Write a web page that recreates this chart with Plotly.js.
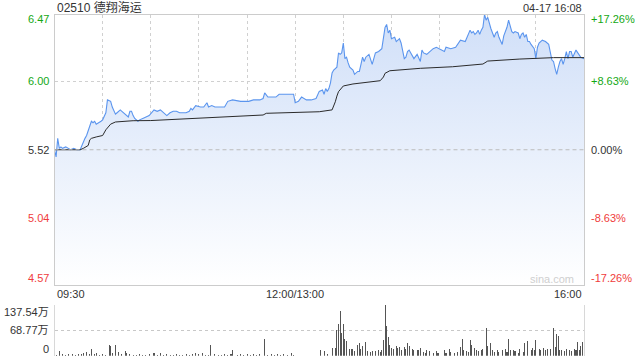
<!DOCTYPE html>
<html>
<head>
<meta charset="utf-8">
<script src="https://cdn.plot.ly/plotly-3.0.1.min.js"></script>
<style>html,body{margin:0;padding:0;background:#fff;}#chart{width:640px;height:360px;}</style>
</head>
<body>
<div id="chart"></div>
<script>
// ---- data ----
const stockTitle = "02510 德翔海运";
const stampText = "04-17 16:08";
const prevClose = 5.52;
const priceMin = 4.57;
const priceMax = 6.47;
const priceTickVals = [6.47, 6.00, 5.52, 5.04, 4.57];
const priceTickText = ["6.47", "6.00", "5.52", "5.04", "4.57"];
const pctTickText = ["+17.26%", "+8.63%", "0.00%", "-8.63%", "-17.26%"];
const volMax = 137.54;
const volTickVals = [137.54, 68.77, 0];
const volTickText = ["137.54万", "68.77万", "0"];
const timeTickPos = [0, 150, 330];
const timeTickText = ["09:30", "12:00/13:00", "16:00"];
const gridMinutes = [0, 30, 60, 90, 120, 150, 180, 210, 240, 270, 300, 330];

// trading minute index (0 = 09:30, 150 = 12:00/13:00, 330 = 16:00)
const priceMinute = [0,1,2,3,4,5,7,10,12,14,16,18,19,20,22,23,24,25,26,28,29,30,31,32,33,35,36,37,38,39,40,41,42,43,44,45,46,47,48,49,50,52,53,55,57,59,62,64,66,68,70,72,74,76,78,80,82,84,85,86,88,91,93,95,96,98,100,103,106,108,111,116,121,124,128,130,131,133,138,140,147,149,150,152,154,157,160,163,165,167,168,169,170,171,172,173,174,176,177,178,179,180,181,182,183,184,186,187,189,190,191,192,193,194,196,198,200,202,204,205,206,207,208,209,210,212,213,214,215,216,217,218,219,220,221,222,223,224,226,228,229,230,232,234,236,238,240,242,243,244,247,250,252,253,256,257,259,260,261,262,263,264,265,266,267,268,269,270,271,272,273,274,275,276,277,278,279,280,282,283,284,285,286,287,289,290,291,292,293,294,295,296,297,298,299,300,301,302,304,306,308,310,311,312,313,314,315,316,317,318,319,320,321,322,323,325,327,328,330];
const priceValue = [5.52,5.47,5.60,5.53,5.54,5.53,5.54,5.52,5.53,5.52,5.52,5.58,5.60,5.62,5.68,5.72,5.71,5.72,5.70,5.71,5.72,5.73,5.76,5.78,5.87,5.86,5.82,5.80,5.77,5.78,5.79,5.80,5.79,5.78,5.77,5.76,5.75,5.79,5.79,5.76,5.74,5.72,5.73,5.74,5.75,5.76,5.80,5.79,5.80,5.78,5.76,5.78,5.79,5.79,5.78,5.78,5.78,5.79,5.81,5.80,5.83,5.82,5.82,5.85,5.82,5.83,5.82,5.82,5.82,5.86,5.87,5.86,5.86,5.87,5.87,5.88,5.92,5.89,5.89,5.91,5.91,5.91,5.85,5.86,5.89,5.87,5.87,5.88,5.93,5.94,5.91,5.95,5.93,5.95,5.99,6.06,6.08,6.10,6.20,6.19,6.20,6.27,6.16,6.17,6.13,6.10,6.08,6.05,6.07,6.07,6.12,6.17,6.14,6.17,6.19,6.12,6.20,6.21,6.23,6.31,6.38,6.40,6.34,6.36,6.30,6.31,6.28,6.29,6.30,6.27,6.22,6.16,6.17,6.21,6.22,6.20,6.19,6.16,6.19,6.14,6.22,6.20,6.19,6.21,6.23,6.24,6.23,6.22,6.21,6.24,6.23,6.24,6.27,6.29,6.28,6.31,6.36,6.34,6.35,6.33,6.34,6.36,6.33,6.36,6.38,6.47,6.43,6.45,6.40,6.37,6.34,6.31,6.34,6.35,6.31,6.29,6.26,6.32,6.38,6.43,6.38,6.35,6.34,6.35,6.34,6.30,6.33,6.34,6.31,6.33,6.28,6.28,6.26,6.24,6.23,6.16,6.24,6.27,6.29,6.28,6.26,6.15,6.14,6.09,6.05,6.10,6.14,6.16,6.12,6.16,6.21,6.16,6.21,6.21,6.17,6.22,6.19,6.17,6.16];

const avgMinute = [0,10,16,18,21,22,23,26,30,32,34,35,38,49,60,91,111,130,132,165,173,174,175,176,177,180,186,203,205,206,209,228,248,267,269,270,290,311,330];
const avgValue = [5.52,5.52,5.52,5.53,5.55,5.59,5.60,5.61,5.62,5.66,5.69,5.70,5.715,5.724,5.725,5.741,5.752,5.764,5.776,5.787,5.80,5.827,5.857,5.897,5.928,5.968,5.982,6.005,6.031,6.057,6.075,6.092,6.103,6.122,6.136,6.143,6.157,6.167,6.167];

// volume in 万 shares
const volMinute = [0,1,3,5,7,9,11,13,15,17,18,20,22,23,25,26,28,30,32,34,35,36,38,40,42,44,45,47,49,51,53,55,57,59,62,64,66,68,70,72,74,76,78,80,82,84,86,88,90,92,94,96,97,100,102,104,106,108,110,111,114,116,118,120,122,124,126,128,131,133,135,137,139,141,143,145,148,149,166,168,170,173,175,176,177,178,179,180,181,182,184,185,186,187,189,190,191,192,194,195,197,198,200,202,203,204,205,206,207,208,209,210,211,213,214,215,216,218,219,220,221,223,224,226,227,228,230,231,232,234,236,238,239,243,244,246,247,249,251,253,254,255,257,258,259,260,262,263,264,266,267,269,270,272,273,274,276,277,279,281,282,283,284,286,287,289,290,292,293,295,297,298,299,300,302,303,305,306,307,309,311,312,313,314,315,316,318,319,321,322,324,325,326,327,328,329];
const volValue = [6,3,12,4,3,5,4,3,5,4,8,10,4,19,5,6,3,4,3,30,25,6,28,11,5,12,8,4,3,3,4,3,3,4,6,3,6,3,4,3,3,4,3,3,4,3,5,6,4,6,3,3,30,4,3,3,5,3,4,16,3,4,3,4,3,5,3,4,44,3,4,3,4,3,4,3,6,3,14,12,4,21,21,68,86,121,61,86,46,39,19,19,19,13,30,34,19,25,37,13,9,12,12,14,9,16,41,135,81,50,28,21,19,25,21,23,14,23,19,34,25,19,14,14,16,21,10,7,16,12,7,12,7,14,7,19,10,7,10,23,44,16,12,10,41,30,21,14,12,16,19,75,25,34,14,10,14,10,14,18,10,46,16,14,12,7,19,10,34,39,14,21,16,43,19,16,21,14,19,19,74,23,57,52,16,14,12,19,14,12,19,14,37,14,25,37];

// ---- styles ----
const FONT = 'Liberation Sans, Arial, "Noto Sans CJK SC", sans-serif';
const GREEN = '#14a814';
const RED = '#f03c3c';
const DARK = '#333333';
const labelColors = [GREEN, GREEN, DARK, RED, RED];
const labelShift = [-5, 0, 0, 0, 7];
const W = 640, H = 360;
const xL = 54.5 / W, xR = 584 / W;
const mainDomain = [(H - 285) / H, (H - 14.5) / H];
const volDomain = [(H - 355.7) / H, (H - 304.5) / H];

const traces = [
  {
    type: 'scatter', mode: 'lines', x: priceMinute, y: priceValue,
    xaxis: 'x', yaxis: 'y',
    line: {color: '#5b95ee', width: 1.1},
    fill: 'tozeroy',
    fillgradient: {type: 'vertical', start: priceMin, stop: priceMax,
      colorscale: [[0, 'rgba(255,255,255,1)'], [1, 'rgba(208,223,248,1)']]},
    hoverinfo: 'skip'
  },
  {
    type: 'scatter', mode: 'lines', x: avgMinute, y: avgValue,
    xaxis: 'x', yaxis: 'y',
    line: {color: '#2b2b2b', width: 1},
    hoverinfo: 'skip'
  },
  {
    type: 'bar', x: volMinute, y: volValue, xaxis: 'x2', yaxis: 'y2',
    marker: {color: '#555555', line: {width: 0}}, width: 0.65,
    hoverinfo: 'skip'
  }
];

const annotations = [];
priceTickVals.forEach((v, i) => {
  annotations.push({xref: 'paper', yref: 'y', x: 51 / W, y: v, xanchor: 'right', yanchor: 'middle',
    text: priceTickText[i], showarrow: false, yshift: labelShift[i],
    font: {family: FONT, size: 11, color: labelColors[i]}});
  annotations.push({xref: 'paper', yref: 'y', x: 589 / W, y: v, xanchor: 'left', yanchor: 'middle',
    text: pctTickText[i], showarrow: false, yshift: labelShift[i],
    font: {family: FONT, size: 11, color: labelColors[i]}});
});
const volShift = [-7, 0, 7];
volTickVals.forEach((v, i) => {
  annotations.push({xref: 'paper', yref: 'y2', x: 51 / W, y: v, xanchor: 'right', yanchor: 'middle',
    text: volTickText[i], showarrow: false, yshift: volShift[i],
    font: {family: FONT, size: 11, color: DARK}});
});
const timeAnchor = ['left', 'center', 'right'];
timeTickPos.forEach((t, i) => {
  annotations.push({xref: 'x', yref: 'paper', x: t, y: (H - 294) / H, xanchor: timeAnchor[i], yanchor: 'middle',
    text: timeTickText[i], showarrow: false, font: {family: FONT, size: 11, color: DARK}});
});
annotations.push({xref: 'paper', yref: 'paper', x: 55 / W, y: (H - 7.5) / H, xanchor: 'left', yanchor: 'middle',
  text: stockTitle, showarrow: false, font: {family: FONT, size: 12, color: DARK}});
annotations.push({xref: 'paper', yref: 'paper', x: 584 / W, y: (H - 7.5) / H, xanchor: 'right', yanchor: 'middle',
  text: stampText, showarrow: false, font: {family: FONT, size: 11, color: DARK}});
annotations.push({xref: 'paper', yref: 'paper', x: 552 / W, y: (H - 279) / H, xanchor: 'center', yanchor: 'middle',
  text: 'sina.com', showarrow: false, font: {family: FONT, size: 11, color: '#cfcfcf'}});

const layout = {
  width: W, height: H,
  margin: {l: 0, r: 0, t: 0, b: 0},
  paper_bgcolor: '#fff', plot_bgcolor: 'rgba(0,0,0,0)',
  showlegend: false,
  bargap: 0,
  xaxis: {domain: [xL, xR], anchor: 'y', range: [0, 330], tickmode: 'array', tickvals: gridMinutes,
    showticklabels: false, ticks: '', showgrid: true, gridcolor: '#d0d0d0', griddash: 'dot', gridwidth: 1,
    showline: true, mirror: true, linecolor: '#cccccc', linewidth: 1, zeroline: false, fixedrange: true},
  yaxis: {domain: mainDomain, anchor: 'x', range: [priceMin, priceMax], tickmode: 'array', tickvals: [6.00, 5.04],
    showticklabels: false, ticks: '', showgrid: true, gridcolor: '#d0d0d0', griddash: 'dot', gridwidth: 1,
    showline: true, mirror: true, linecolor: '#cccccc', linewidth: 1, zeroline: false, fixedrange: true},
  xaxis2: {domain: [xL, xR], anchor: 'y2', range: [0, 330], showticklabels: false, ticks: '', showgrid: false,
    showline: false, zeroline: false, fixedrange: true},
  yaxis2: {domain: volDomain, anchor: 'x2', range: [0, volMax], tickmode: 'array', tickvals: [68.77, 137.54],
    showticklabels: false, ticks: '', showgrid: true, gridcolor: '#c8c8c8', griddash: 'dot', gridwidth: 1,
    showline: true, mirror: true, linecolor: '#d8d8d8', linewidth: 1, zeroline: false, fixedrange: true},
  shapes: [
    {type: 'line', xref: 'x', yref: 'y', x0: 0, x1: 330, y0: prevClose, y1: prevClose,
      line: {color: '#bbbbbb', width: 1, dash: '4px,3px'}, layer: 'above'}
  ],
  annotations: annotations
};

Plotly.newPlot('chart', traces, layout, {displayModeBar: false, staticPlot: true});
</script>
</body>
</html>
